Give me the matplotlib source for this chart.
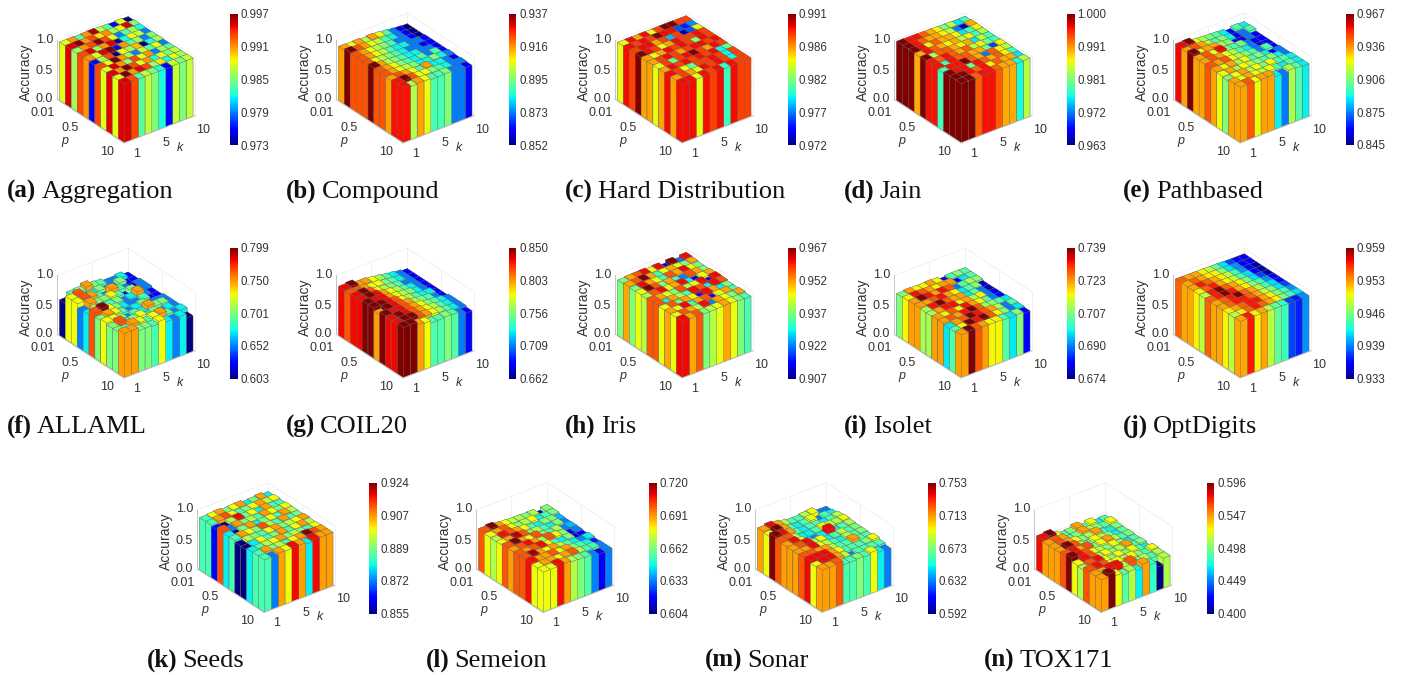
import matplotlib
matplotlib.use("Agg")
import matplotlib.pyplot as plt
from matplotlib.cm import ScalarMappable
from matplotlib.colors import Normalize
from mpl_toolkits.mplot3d import proj3d
import numpy as np

plt.rcParams['font.family'] = ['Liberation Sans', 'DejaVu Sans']

# each grid: rows are p (0.01 ... 10), columns are k (1 ... 10)
aggregation = [
    [.988, .991, .984, .991, .996, .987, .984, .976, .988, .973],
    [.995, .997, .991, .993, .989, .991, .986, .988, .995, .985],
    [.986, .991, .993, .997, .993, .988, .979, .984, .986, .982],
    [.993, .995, .986, .991, .995, .973, .982, .988, .987, .979],
    [.991, .988, .995, .997, .976, .991, .984, .986, .979, .985],
    [.976, .986, .993, .973, .988, .986, .990, .973, .982, .986],
    [.993, .988, .997, .991, .986, .979, .987, .984, .988, .979],
    [.988, .995, .991, .986, .993, .988, .991, .979, .986, .984],
    [.995, .991, .997, .993, .988, .991, .982, .988, .985, .987],
    [.988, .997, .991, .995, .993, .986, .989, .982, .988, .986],
    [.995, .993, .984, .987, .985, .982, .976, .987, .985, .987],
]
compound = [
    [.915, .906, .915, .900, .915, .906, .889, .873, .862, .852],
    [.937, .922, .915, .906, .900, .889, .883, .873, .862, .852],
    [.922, .915, .906, .900, .895, .889, .873, .873, .862, .852],
    [.922, .915, .906, .900, .889, .883, .883, .873, .873, .862],
    [.922, .906, .900, .895, .889, .883, .873, .873, .862, .862],
    [.937, .915, .900, .895, .889, .883, .883, .873, .873, .862],
    [.922, .915, .906, .895, .889, .883, .889, .873, .889, .862],
    [.922, .915, .906, .900, .895, .883, .883, .895, .883, .873],
    [.915, .922, .915, .906, .889, .915, .883, .883, .873, .862],
    [.928, .937, .922, .906, .906, .895, .889, .883, .873, .873],
    [.928, .900, .915, .906, .889, .889, .895, .873, .873, .862],
]
hard_distribution = [
    [.984, .989, .986, .989, .984, .988, .991, .991, .988, .988],
    [.989, .988, .989, .988, .991, .989, .989, .976, .975, .977],
    [.988, .989, .989, .986, .988, .978, .988, .973, .976, .984],
    [.991, .989, .988, .984, .986, .989, .988, .988, .989, .988],
    [.986, .984, .986, .989, .988, .989, .988, .982, .989, .988],
    [.986, .988, .989, .988, .986, .988, .989, .989, .988, .989],
    [.984, .988, .981, .988, .989, .991, .988, .986, .989, .988],
    [.986, .989, .988, .989, .988, .989, .988, .989, .979, .981],
    [.989, .988, .984, .981, .988, .988, .989, .988, .979, .988],
    [.986, .988, .986, .984, .989, .988, .989, .988, .979, .988],
    [.989, .989, .984, .989, .988, .989, .980, .989, .988, .988],
]
jain = [
    [1.00, .996, .996, .993, .990, .987, .981, .984, .976, .979],
    [1.00, .996, .993, .990, .990, .987, .984, .972, .965, .990],
    [1.00, .996, .987, .993, .990, .990, .987, .976, .979, .987],
    [.990, .996, .993, .990, .987, .990, .984, .987, .979, .984],
    [1.00, .984, .993, .993, .990, .987, .990, .976, .984, .979],
    [.996, .993, .996, .993, .990, .993, .984, .987, .981, .979],
    [.996, .979, .996, .993, .993, .990, .990, .981, .970, .987],
    [.979, .996, .996, 1.00, .993, .990, .972, .993, .987, .984],
    [1.00, .996, .996, .981, .996, .993, .990, .993, .987, .979],
    [1.00, 1.00, .996, .993, .996, .987, .993, .990, .990, .976],
    [1.00, 1.00, .993, .996, .996, .993, .990, .990, .977, .984],
]
pathbased = [
    [.955, .967, .923, .913, .906, .899, .889, .860, .899, .889],
    [.935, .945, .935, .913, .899, .906, .889, .860, .875, .899],
    [.967, .923, .935, .935, .913, .906, .860, .860, .875, .860],
    [.935, .945, .923, .955, .906, .899, .906, .875, .860, .860],
    [.935, .945, .935, .923, .913, .899, .889, .875, .860, .860],
    [.945, .935, .945, .923, .913, .906, .899, .875, .899, .860],
    [.935, .923, .935, .913, .923, .899, .906, .889, .860, .875],
    [.923, .935, .913, .923, .913, .906, .899, .906, .889, .875],
    [.906, .923, .935, .913, .923, .906, .923, .899, .899, .889],
    [.935, .923, .935, .923, .913, .923, .899, .889, .899, .889],
    [.935, .945, .923, .935, .935, .889, .875, .913, .899, .889],
]
allaml = [
    [.603, .689, .701, .748, .701, .689, .652, .652, .674, .627],
    [.728, .764, .652, .674, .701, .652, .652, .701, .627, .627],
    [.728, .764, .748, .689, .652, .748, .689, .652, .627, .652],
    [.652, .748, .701, .701, .728, .689, .627, .701, .652, .652],
    [.674, .713, .674, .689, .701, .652, .674, .748, .652, .627],
    [.764, .799, .728, .701, .674, .652, .652, .689, .627, .627],
    [.701, .748, .728, .689, .652, .674, .701, .652, .652, .652],
    [.728, .728, .701, .652, .689, .674, .748, .701, .701, .652],
    [.701, .764, .689, .701, .728, .674, .701, .652, .674, .652],
    [.701, .689, .748, .728, .689, .728, .748, .689, .652, .674],
    [.748, .748, .701, .701, .689, .728, .674, .652, .674, .603],
]
coil20 = [
    [.831, .850, .801, .801, .782, .767, .745, .730, .709, .685],
    [.816, .816, .801, .782, .782, .756, .745, .730, .709, .685],
    [.831, .850, .816, .782, .767, .756, .745, .709, .709, .685],
    [.831, .850, .831, .801, .782, .767, .745, .730, .709, .685],
    [.850, .831, .831, .801, .782, .767, .756, .730, .709, .685],
    [.850, .850, .831, .816, .782, .767, .745, .730, .730, .685],
    [.801, .850, .831, .816, .801, .767, .756, .745, .709, .685],
    [.850, .831, .831, .816, .801, .782, .756, .745, .730, .709],
    [.831, .850, .831, .816, .801, .782, .767, .745, .730, .709],
    [.831, .850, .850, .816, .801, .782, .767, .745, .730, .709],
    [.850, .850, .801, .782, .745, .745, .756, .745, .709, .685],
]
iris = [
    [.937, .951, .956, .961, .945, .961, .914, .967, .922, .961],
    [.951, .956, .967, .951, .933, .945, .951, .945, .937, .951],
    [.937, .961, .951, .945, .933, .956, .951, .961, .945, .937],
    [.945, .967, .956, .937, .951, .933, .922, .956, .951, .937],
    [.941, .956, .961, .945, .951, .961, .929, .914, .945, .951],
    [.956, .951, .945, .937, .956, .941, .945, .961, .914, .961],
    [.956, .929, .951, .941, .933, .961, .956, .929, .961, .956],
    [.945, .956, .937, .951, .945, .914, .961, .951, .929, .937],
    [.951, .945, .961, .933, .951, .956, .914, .945, .951, .933],
    [.945, .956, .951, .941, .961, .922, .951, .945, .937, .951],
    [.961, .951, .956, .937, .941, .945, .951, .945, .937, .933],
]
isolet = [
    [.707, .722, .716, .716, .722, .716, .682, .703, .707, .703],
    [.716, .732, .727, .722, .716, .722, .722, .682, .697, .703],
    [.722, .739, .732, .722, .732, .727, .690, .703, .710, .707],
    [.722, .722, .727, .732, .722, .716, .697, .703, .707, .678],
    [.710, .732, .739, .727, .722, .722, .697, .703, .690, .678],
    [.710, .722, .732, .732, .716, .722, .710, .716, .690, .682],
    [.722, .716, .727, .716, .732, .722, .716, .703, .690, .682],
    [.722, .727, .722, .732, .739, .727, .710, .707, .703, .697],
    [.697, .722, .727, .739, .732, .727, .722, .710, .690, .703],
    [.703, .716, .739, .732, .739, .727, .716, .707, .690, .697],
    [.722, .739, .727, .722, .716, .716, .703, .697, .707, .682],
]
optdigits = [
    [.954, .952, .952, .950, .948, .945, .942, .938, .936, .936],
    [.952, .954, .952, .950, .950, .946, .942, .940, .936, .936],
    [.952, .956, .954, .952, .950, .948, .944, .940, .936, .934],
    [.950, .954, .956, .952, .950, .948, .944, .942, .936, .934],
    [.948, .956, .959, .954, .952, .950, .946, .942, .938, .934],
    [.954, .956, .959, .956, .952, .950, .946, .944, .940, .936],
    [.952, .954, .956, .959, .954, .952, .948, .944, .942, .936],
    [.952, .954, .956, .956, .954, .952, .948, .946, .942, .938],
    [.950, .952, .954, .956, .956, .952, .950, .946, .944, .940],
    [.948, .950, .954, .956, .954, .952, .950, .946, .944, .942],
    [.952, .956, .950, .952, .948, .945, .944, .938, .937, .940],
]
seeds = [
    [.885, .899, .906, .889, .899, .906, .880, .889, .906, .880],
    [.885, .906, .912, .899, .885, .889, .899, .906, .894, .899],
    [.863, .855, .894, .917, .889, .899, .880, .906, .885, .885],
    [.912, .872, .906, .889, .894, .885, .906, .899, .889, .899],
    [.880, .855, .889, .906, .880, .889, .899, .885, .906, .894],
    [.885, .906, .899, .889, .912, .894, .885, .906, .885, .889],
    [.855, .894, .889, .885, .899, .906, .889, .894, .899, .906],
    [.855, .880, .899, .885, .889, .906, .885, .899, .906, .894],
    [.880, .885, .894, .899, .906, .889, .894, .889, .885, .899],
    [.885, .906, .889, .894, .885, .899, .906, .924, .912, .906],
    [.885, .872, .906, .899, .917, .906, .880, .917, .906, .906],
]
semeion = [
    [.699, .720, .690, .678, .669, .669, .662, .669, .610, .662],
    [.678, .690, .699, .678, .662, .669, .678, .646, .655, .662],
    [.669, .708, .699, .690, .678, .655, .646, .662, .662, .640],
    [.678, .690, .714, .699, .662, .669, .655, .646, .662, .633],
    [.699, .720, .690, .678, .699, .662, .655, .669, .633, .640],
    [.690, .699, .708, .690, .669, .699, .678, .662, .618, .633],
    [.699, .690, .699, .708, .678, .655, .646, .662, .610, .618],
    [.699, .716, .690, .678, .690, .669, .655, .646, .633, .646],
    [.708, .690, .690, .699, .678, .690, .662, .655, .646, .622],
    [.678, .690, .690, .678, .690, .699, .669, .655, .655, .633],
    [.678, .678, .708, .690, .669, .662, .655, .633, .618, .633],
]
sonar = [
    [.711, .737, .711, .682, .663, .663, .682, .695, .632, .632],
    [.695, .753, .711, .663, .650, .663, .695, .632, .663, .650],
    [.753, .737, .711, .663, .650, .663, .663, .650, .663, .682],
    [.724, .724, .682, .650, .650, .663, .695, .682, .682, .695],
    [.711, .737, .695, .650, .632, .650, .737, .650, .663, .682],
    [.711, .724, .737, .682, .695, .650, .663, .682, .663, .673],
    [.711, .711, .737, .695, .682, .663, .650, .682, .663, .673],
    [.724, .724, .711, .711, .682, .663, .663, .711, .663, .663],
    [.737, .737, .737, .711, .695, .663, .663, .663, .673, .695],
    [.695, .737, .737, .711, .682, .632, .663, .663, .663, .663],
    [.711, .711, .724, .663, .663, .673, .663, .695, .650, .632],
]
tox171 = [
    [.576, .596, .525, .486, .498, .545, .486, .525, .471, .486],
    [.545, .561, .545, .486, .498, .545, .510, .498, .486, .525],
    [.545, .561, .545, .525, .498, .510, .545, .486, .471, .498],
    [.545, .596, .561, .510, .486, .525, .510, .498, .471, .490],
    [.561, .576, .545, .561, .498, .525, .545, .510, .486, .498],
    [.596, .576, .561, .525, .510, .498, .525, .498, .471, .486],
    [.525, .576, .561, .510, .525, .498, .510, .545, .486, .498],
    [.510, .561, .576, .525, .498, .525, .498, .525, .486, .471],
    [.561, .576, .561, .471, .525, .510, .525, .498, .486, .525],
    [.545, .545, .576, .576, .510, .561, .498, .510, .486, .510],
    [.545, .596, .525, .490, .510, .471, .545, .480, .400, .510],
]

letters = list("abcdefghijklmn")
names = ["Aggregation", "Compound", "Hard Distribution", "Jain", "Pathbased",
         "ALLAML", "COIL20", "Iris", "Isolet", "OptDigits",
         "Seeds", "Semeion", "Sonar", "TOX171"]
grids = [aggregation, compound, hard_distribution, jain, pathbased,
         allaml, coil20, iris, isolet, optdigits,
         seeds, semeion, sonar, tox171]
cbar_labels = [
    ["0.973", "0.979", "0.985", "0.991", "0.997"],
    ["0.852", "0.873", "0.895", "0.916", "0.937"],
    ["0.972", "0.977", "0.982", "0.986", "0.991"],
    ["0.963", "0.972", "0.981", "0.991", "1.000"],
    ["0.845", "0.875", "0.906", "0.936", "0.967"],
    ["0.603", "0.652", "0.701", "0.750", "0.799"],
    ["0.662", "0.709", "0.756", "0.803", "0.850"],
    ["0.907", "0.922", "0.937", "0.952", "0.967"],
    ["0.674", "0.690", "0.707", "0.723", "0.739"],
    ["0.933", "0.939", "0.946", "0.953", "0.959"],
    ["0.855", "0.872", "0.889", "0.907", "0.924"],
    ["0.604", "0.633", "0.662", "0.691", "0.720"],
    ["0.592", "0.632", "0.673", "0.713", "0.753"],
    ["0.400", "0.449", "0.498", "0.547", "0.596"],
]
p_ticks = ["0.01", "0.5", "10"]
k_ticks = ["1", "5", "10"]
z_ticks = ["0.0", "0.5", "1.0"]

W, H = 1403, 675
fig = plt.figure(figsize=(W / 100, H / 100), dpi=100)
cmap = plt.get_cmap("jet")
renderer = fig.canvas.get_renderer()


def px_text(x, y, s, **kw):
    return fig.text(x / W, 1 - y / H, s, **kw)


def project(ax, x, y, z):
    ax.apply_aspect()
    xp, yp, _ = proj3d.proj_transform(x, y, z, ax.get_proj())
    return ax.transData.transform((xp, yp))


def draw_panel(n, ox, oy, cbar_oy, cap_oy):
    values = np.array(grids[n])
    labels = cbar_labels[n]
    vmin, vmax = float(labels[0]), float(labels[-1])
    norm = Normalize(vmin, vmax)
    n_p, n_k = values.shape

    S = 260
    ax = fig.add_axes([0, 0, S / W, S / H], projection="3d", proj_type="ortho",
                      computed_zorder=False)
    ax.patch.set_visible(False)
    ax.set_axis_off()
    ax.view_init(elev=30, azim=-127.5)

    order = 10
    for i in range(n_p):
        for j in range(n_k - 1, -1, -1):
            ax.bar3d(j, n_p - 1 - i, 0, 1, 1, values[i, j], color=cmap(norm(values[i, j])),
                     edgecolor="#6a6a6a", linewidth=0.25, shade=False, zorder=order)
            order += 1

    x0, x1 = -0.1, n_k + 0.25
    y0, y1 = -0.05, n_p + 0.3
    ax.set_xlim(x0, x1)
    ax.set_ylim(y0, y1)
    ax.set_zlim(0, 1)

    # back walls
    wall = dict(color="#ececec", lw=0.5, zorder=1)
    for z in [0, 0.5, 1]:
        ax.plot([x0, x1], [y1, y1], [z, z], **wall)
        ax.plot([x1, x1], [y0, y1], [z, z], **wall)
    for x in [x0, n_k * 0.5, x1]:
        ax.plot([x, x], [y1, y1], [0, 1], **wall)
    for y in [y0, n_p * 0.5]:
        ax.plot([x1, x1], [y, y], [0, 1], **wall)
    # axis edges
    edge = dict(color="#c4c4c4", lw=0.7, zorder=500)
    ax.plot([x0, x0], [y0, y1], [0, 0], **edge)
    ax.plot([x0, x1], [y0, y0], [0, 0], **edge)
    ax.plot([x0, x0], [y1, y1], [0, 1], color="#c4c4c4", lw=0.7, zorder=2)

    # scale and move the axes so the box lands on its place in the figure
    aspect = (88, 108, 67)
    ax.set_box_aspect(aspect)
    a = project(ax, x0, y0, 0)
    b = project(ax, x1, y0, 0)
    ax.set_box_aspect(aspect, zoom=71 / (b[0] - a[0]))
    a = project(ax, x0, y0, 0)
    target = np.array([ox + 124, H - (oy + 143)])
    shift = target - a
    ax.set_position([shift[0] / W, shift[1] / H, S / W, S / H])

    # tick and axis labels of the box
    tick = dict(fontsize=9, color="#333333", va="center")
    for y, s in zip([40, 71, 99], z_ticks[::-1]):
        px_text(ox + 53, oy + y, s, ha="right", **tick)
    for x, y, s in zip([55, 79, 114], [113, 128, 152], p_ticks):
        px_text(ox + x, oy + y, s, ha="right", **tick)
    for x, y, s in zip([137, 166, 203], [154, 143, 130], k_ticks):
        px_text(ox + x, oy + y, s, ha="center", **tick)
    px_text(ox + 65, oy + 141, "p", ha="center", style="italic", **tick)
    px_text(ox + 180, oy + 148, "k", ha="center", style="italic", **tick)
    px_text(ox + 26, oy + 72, "Accuracy", ha="center", va="center", rotation=90,
            fontsize=10, color="#333333")

    # colour bar
    cax = fig.add_axes([(ox + 229.5) / W, 1 - (cbar_oy + 145) / H, 8 / W, 131 / H])
    cb = fig.colorbar(ScalarMappable(norm=norm, cmap=cmap), cax=cax)
    cb.set_ticks(np.linspace(vmin, vmax, 5), labels=labels)
    cb.ax.tick_params(length=0, pad=2, labelsize=8.3, labelcolor="#333333")
    cb.outline.set_visible(False)

    # caption
    bold = px_text(ox + 7, cap_oy + 198, "(%s)" % letters[n], family="Liberation Serif",
                   weight="bold", fontsize=18, color="#111111", va="baseline")
    right = bold.get_window_extent(renderer).x1
    px_text(right + 5, cap_oy + 198, names[n], family="Liberation Serif",
            fontsize=19, color="#111111", va="baseline")


col_x = [0, 279, 558, 837, 1116]
row3_x = [140, 419, 698, 977]
for idx in range(5):
    draw_panel(idx, col_x[idx], 0, 0, 0)
for idx in range(5):
    draw_panel(idx + 5, col_x[idx], 235, 233.7, 235)
for idx in range(4):
    draw_panel(idx + 10, row3_x[idx], 469.5, 468.7, 469)

fig.savefig("out.png", dpi=100)
